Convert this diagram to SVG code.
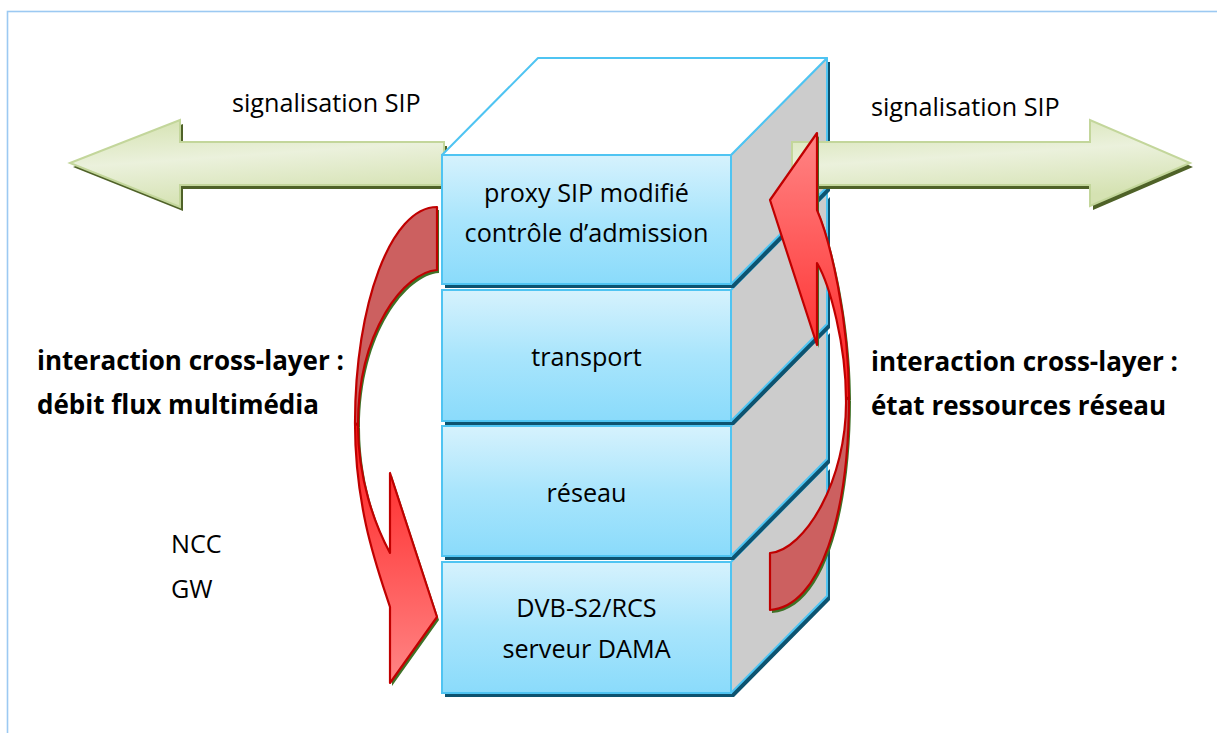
<svg xmlns="http://www.w3.org/2000/svg" width="1217" height="733" viewBox="0 0 1217 733">
<style>
text{font-family:"Open Sans","Liberation Sans",sans-serif;font-size:25.2px;fill:#000}
.b{font-weight:bold;font-size:26px}
.c{text-anchor:middle}
.front{stroke:#4fc4f2;stroke-width:2}
.side{fill:#cccccc;stroke:#4fc4f2;stroke-width:2;stroke-linejoin:round}
.top{fill:#ffffff;stroke:#4fc4f2;stroke-width:2;stroke-linejoin:round}
.shd{fill:#0d5370}
.garrow{fill:url(#gG);stroke:#c3d69b;stroke-width:2}
.gshd{fill:#4f6228}
.rshd{fill:#3f7228}
.rdark{fill:#cc6060;stroke:#c00000;stroke-width:2.2;stroke-linejoin:round}
.rline{stroke:#c00000;stroke-width:2.2;stroke-linejoin:round}
</style>
<defs>
<linearGradient id="fG" x1="0" y1="0" x2="0" y2="1">
<stop offset="0" stop-color="#d6f2fd"/>
<stop offset="0.5" stop-color="#a9e5fc"/>
<stop offset="1" stop-color="#8adbfb"/>
</linearGradient>
<linearGradient id="gG" x1="0" y1="0" x2="0.3" y2="1">
<stop offset="0" stop-color="#d3e1ad"/>
<stop offset="0.5" stop-color="#ebf1dc"/>
<stop offset="1" stop-color="#d5e2b2"/>
</linearGradient>
<linearGradient id="rL" gradientUnits="userSpaceOnUse" x1="0" y1="430" x2="0" y2="683">
<stop offset="0" stop-color="#ff2020"/>
<stop offset="1" stop-color="#ff8585"/>
</linearGradient>
<linearGradient id="rR" gradientUnits="userSpaceOnUse" x1="0" y1="133" x2="0" y2="400">
<stop offset="0" stop-color="#ff8585"/>
<stop offset="1" stop-color="#ff2020"/>
</linearGradient>
</defs>

<rect x="7.5" y="11.5" width="1300" height="800" fill="none" stroke="#9cc9f2" stroke-width="1.6"/>

<g id="sig-left">
<polygon class="gshd" transform="translate(3,4)" points="70,163 180,120 180,142 444,142 444,185 180,185 180,207"/>
<polygon class="garrow" points="70,163 180,120 180,142 444,142 444,185 180,185 180,207"/>
</g>

<g id="layer-dvb">
<path class="shd" transform="translate(3,4)" d="M442,562 H731 L827,465 V596 L731,693 H442 Z"/>
<rect class="front" x="442" y="562" width="289" height="131" fill="url(#fG)"/>
<polygon class="side" points="731,562 827,465 827,596 731,693"/>
<text class="c" x="586.5" y="617">DVB-S2/RCS</text>
<text class="c" x="586.5" y="658">serveur DAMA</text>
</g>

<g id="layer-reseau">
<path class="shd" transform="translate(3,4)" d="M442,426 H731 L827,329 V459 L731,556 H442 Z"/>
<rect class="front" x="442" y="426" width="289" height="130" fill="url(#fG)"/>
<polygon class="side" points="731,426 827,329 827,459 731,556"/>
<text class="c" x="586.5" y="502">réseau</text>
</g>

<g id="layer-transport">
<path class="shd" transform="translate(3,4)" d="M442,290 H731 L827,193 V324 L731,421 H442 Z"/>
<rect class="front" x="442" y="290" width="289" height="131" fill="url(#fG)"/>
<polygon class="side" points="731,290 827,193 827,324 731,421"/>
<text class="c" x="586.5" y="366">transport</text>
</g>

<g id="layer-proxy">
<path class="shd" transform="translate(3,4)" d="M442,155 L538,58 H827 V187 L731,284 H442 Z"/>
<rect class="front" x="442" y="155" width="289" height="129" fill="url(#fG)"/>
<polygon class="side" points="731,155 827,58 827,187 731,284"/>
<polygon class="top" points="442,155 538,58 827,58 731,155"/>
<text class="c" x="586.5" y="202">proxy SIP modifié</text>
<text class="c" x="586.5" y="242">contrôle d’admission</text>
</g>

<g id="sig-right">
<polygon class="gshd" transform="translate(3,4)" points="792,142 1090,142 1090,120 1190,163 1090,206 1090,185 792,185"/>
<polygon class="garrow" points="792,142 1090,142 1090,120 1190,163 1090,206 1090,185 792,185"/>
</g>

<g id="connectors">
<g id="cross-left">
<g class="rshd" transform="translate(2,3)">
<path d="M437,207 C391,207 355,304 355,423 L358,425 C358,330 405,272 437,270 Z"/>
<path d="M355,423 C355,510 378,570 390,607 L390,683 L437,617 L390,473 L390,553 C375,525 358,480 358,425 Z"/>
</g>
<path class="rline" fill="url(#rL)" d="M355,423 C355,510 378,570 390,607 L390,683 L437,617 L390,473 L390,553 C375,525 358,480 358,425 Z"/>
<path class="rdark" d="M437,207 C391,207 355,304 355,423 L358,425 C358,330 405,272 437,270 Z"/>
</g>
<g id="cross-right">
<g class="rshd" transform="translate(2,3)">
<path d="M770,553 C805,550 847,480 846,400 L849,397 C849,515 820,607 770,610 Z"/>
<path d="M849,397 C849,320 830,240 817,210 L817,133 L770,200 L817,345 L817,263 C830,285 846,345 846,400 Z"/>
</g>
<path class="rline" fill="url(#rR)" d="M849,397 C849,320 830,240 817,210 L817,133 L770,200 L817,345 L817,263 C830,285 846,345 846,400 Z"/>
<path class="rdark" d="M770,553 C805,550 847,480 846,400 L849,397 C849,515 820,607 770,610 Z"/>
</g>
</g>

<g id="labels">
<text x="232" y="112">signalisation SIP</text>
<text x="871" y="116">signalisation SIP</text>
<text class="b" x="37" y="370">interaction cross-layer :</text>
<text class="b" x="37" y="414">débit flux multimédia</text>
<text class="b" x="871" y="371">interaction cross-layer :</text>
<text class="b" x="871" y="415">état ressources réseau</text>
<text x="171" y="553">NCC</text>
<text x="171" y="598">GW</text>
</g>
</svg>
